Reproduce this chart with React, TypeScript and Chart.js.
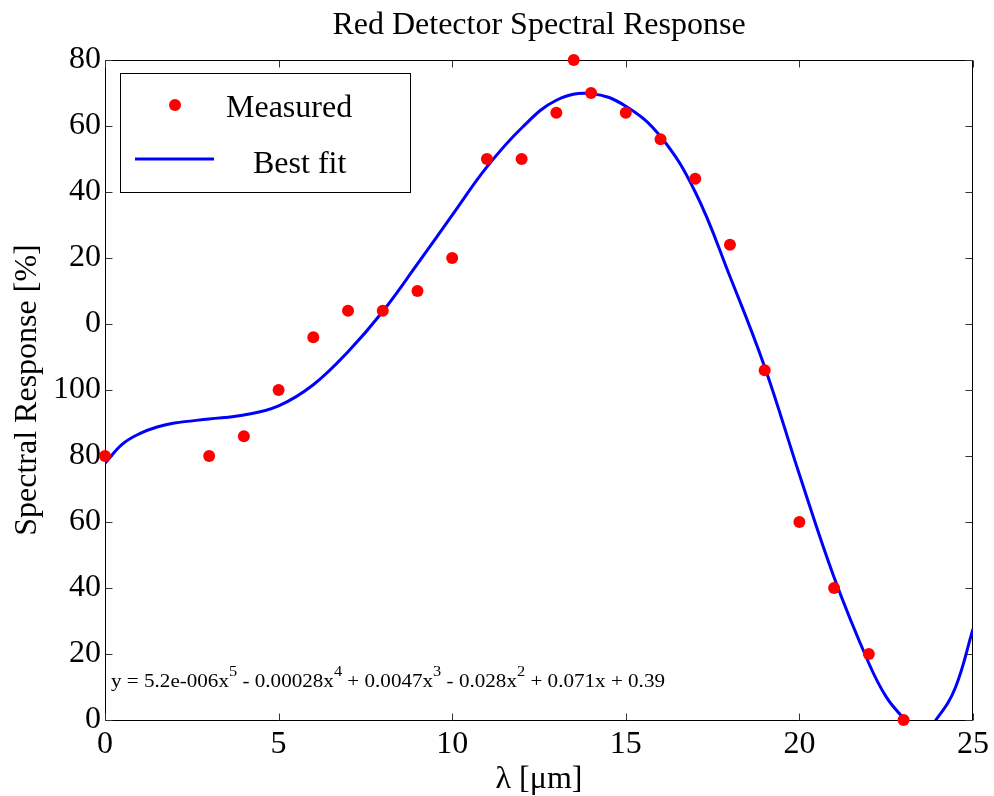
import React, { useEffect, useRef } from 'react';
import { Chart, registerables } from 'chart.js';

Chart.register(...registerables);

const titleText = 'Red Detector Spectral Response';
const xAxisTitle = 'λ [μm]';
const yAxisTitle = 'Spectral Response [%]';
const legendLabels = ['Measured', 'Best fit'];

const xTickValues = [0, 5, 10, 15, 20, 25];
const yTickLabels = ['0', '20', '40', '60', '80', '100', '0', '20', '40', '60', '80'];

const measuredX = [0, 3, 4, 5, 6, 7, 8, 9, 10, 11, 12, 13, 13.5, 14, 15, 16, 17, 18, 19, 20, 21, 22, 23];
const measuredY = [0.40, 0.40, 0.43, 0.50, 0.58, 0.62, 0.62, 0.65, 0.70, 0.85, 0.85, 0.92, 1.0, 0.95, 0.92, 0.88, 0.82, 0.72, 0.53, 0.30, 0.20, 0.10, 0.0];

const fitX = [0, 0.5, 1, 1.5, 2, 3, 4, 5, 6, 7, 8, 9, 10, 11, 12, 13, 14, 15, 16, 17, 18, 19, 20, 21, 22, 22.5, 23, 23.5, 24, 24.5, 25];
const fitY = [0.389, 0.418, 0.434, 0.444, 0.45, 0.456, 0.462, 0.476, 0.508, 0.558, 0.619, 0.691, 0.765, 0.838, 0.897, 0.939, 0.949, 0.93, 0.884, 0.80, 0.672, 0.535, 0.372, 0.216, 0.086, 0.035, 0.003, -0.02, 0.005, 0.05, 0.138];

const equationParts: [string, string][] = [
  ['y = 5.2e-006x', '5'],
  [' - 0.00028x', '4'],
  [' + 0.0047x', '3'],
  [' - 0.028x', '2'],
  [' + 0.071x + 0.39', ''],
];

const FONT = "'Liberation Serif', 'Times New Roman', serif";

const framePlugin = {
  id: 'frameTicks',
  beforeDatasetsDraw(chart: any) {
    const { ctx, chartArea, scales } = chart;
    const { left, top, right, bottom } = chartArea;
    ctx.save();
    ctx.strokeStyle = '#000';
    ctx.lineWidth = 1;
    const L = Math.round(left) + 0.5;
    const R = Math.round(right) - 0.5;
    const T = Math.round(top) + 0.5;
    const B = Math.round(bottom) + 0.5;
    ctx.beginPath();
    ctx.rect(L, T, R - L, B - T);
    ctx.stroke();
    ctx.strokeStyle = '#333';
    const tl = 7;
    ctx.beginPath();
    scales.x.ticks.forEach((t: any) => {
      const px = Math.round(scales.x.getPixelForValue(t.value)) + 0.5;
      ctx.moveTo(px, B);
      ctx.lineTo(px, B - tl);
      ctx.moveTo(px, T);
      ctx.lineTo(px, T + tl);
    });
    scales.y.ticks.forEach((t: any) => {
      const py = Math.round(scales.y.getPixelForValue(t.value)) + 0.5;
      ctx.moveTo(L, py);
      ctx.lineTo(L + tl, py);
      ctx.moveTo(R, py);
      ctx.lineTo(R - tl, py);
    });
    ctx.stroke();
    ctx.restore();
  },
  afterDatasetsDraw(chart: any) {
    const { ctx, chartArea } = chart;
    ctx.save();
    const mainSize = 18;
    const supSize = 14;
    const mainFont = `${mainSize}px ${FONT}`;
    const supFont = `${supSize}px ${FONT}`;
    let total = 0;
    equationParts.forEach(([m, s]) => {
      ctx.font = mainFont;
      total += ctx.measureText(m).width;
      if (s) {
        ctx.font = supFont;
        total += ctx.measureText(s).width;
      }
    });
    const targetWidth = 554;
    const sx = targetWidth / total;
    const x0 = chartArea.left + 6;
    const baseY = 687;
    ctx.translate(x0, baseY);
    ctx.scale(sx, 1);
    ctx.fillStyle = '#000';
    ctx.textBaseline = 'alphabetic';
    ctx.textAlign = 'left';
    let cx = 0;
    equationParts.forEach(([m, s]) => {
      ctx.font = mainFont;
      ctx.fillText(m, cx, 0);
      cx += ctx.measureText(m).width;
      if (s) {
        ctx.font = supFont;
        ctx.fillText(s, cx, -11);
        cx += ctx.measureText(s).width;
      }
    });
    ctx.restore();
  },
  afterDraw(chart: any) {
    const { ctx } = chart;
    ctx.save();
    const bx = 120.5, by = 73.5, bw = 290, bh = 119;
    ctx.fillStyle = '#fff';
    ctx.fillRect(bx, by, bw, bh);
    ctx.strokeStyle = '#000';
    ctx.lineWidth = 1;
    ctx.strokeRect(bx, by, bw, bh);
    ctx.fillStyle = '#FF0000';
    ctx.beginPath();
    ctx.arc(175, 105, 6, 0, Math.PI * 2);
    ctx.fill();
    ctx.strokeStyle = '#0000FF';
    ctx.lineWidth = 3;
    ctx.beginPath();
    ctx.moveTo(135, 159);
    ctx.lineTo(214, 159);
    ctx.stroke();
    ctx.fillStyle = '#000';
    ctx.font = `32px ${FONT}`;
    ctx.textBaseline = 'alphabetic';
    ctx.textAlign = 'left';
    ctx.fillText(legendLabels[0], 226, 117);
    ctx.fillText(legendLabels[1], 253, 173);
    ctx.restore();
  },
};

export default function App() {
  const canvasRef = useRef<HTMLCanvasElement | null>(null);

  useEffect(() => {
    const canvas = canvasRef.current;
    if (!canvas) return;
    const chart = new Chart(canvas, {
      type: 'line',
      data: {
        datasets: [
          {
            label: legendLabels[0],
            data: measuredX.map((x, i) => ({ x, y: measuredY[i] })),
            showLine: false,
            pointRadius: 6,
            pointBackgroundColor: '#FF0000',
            pointBorderColor: '#FF0000',
            pointBorderWidth: 0,
            borderColor: '#FF0000',
            backgroundColor: '#FF0000',
            clip: false as any,
          },
          {
            label: legendLabels[1],
            data: fitX.map((x, i) => ({ x, y: fitY[i] })),
            borderColor: '#0000FF',
            backgroundColor: '#0000FF',
            borderWidth: 3,
            pointRadius: 0,
            tension: 0.4,
            fill: false,
          },
        ],
      },
      options: {
        responsive: false,
        animation: false,
        devicePixelRatio: 1,
        events: [],
        layout: { padding: { left: 0, right: 21, top: 0, bottom: 0 } },
        plugins: {
          legend: { display: false },
          tooltip: { enabled: false },
          title: {
            display: true,
            text: titleText,
            color: '#000',
            fullSize: false,
            font: { family: FONT, size: 32, weight: 'normal', lineHeight: 1.2 },
            padding: { top: 6, bottom: 15.6 },
          },
        },
        scales: {
          x: {
            type: 'linear',
            min: 0,
            max: 25,
            grid: { display: false, drawTicks: false },
            border: { display: false },
            afterFit: (s: any) => {
              s.height = 76;
            },
            afterBuildTicks: (s: any) => {
              s.ticks = xTickValues.map((v) => ({ value: v }));
            },
            ticks: {
              color: '#000',
              padding: 5,
              autoSkip: false,
              maxRotation: 0,
              font: { family: FONT, size: 32, lineHeight: 1.2 },
              callback: (v: any) => String(v),
            },
            title: {
              display: true,
              text: xAxisTitle,
              color: '#000',
              font: { family: FONT, size: 32, lineHeight: 1.0 },
              padding: { top: 0, bottom: 0 },
            },
          },
          y: {
            type: 'linear',
            min: 0,
            max: 1,
            grid: { display: false, drawTicks: false },
            border: { display: false },
            afterFit: (s: any) => {
              s.width = 105;
            },
            ticks: {
              stepSize: 0.1,
              color: '#000',
              padding: 4,
              autoSkip: false,
              font: { family: FONT, size: 32, lineHeight: 1.2 },
              callback: (_v: any, i: number) => yTickLabels[i],
            },
            title: {
              display: true,
              text: yAxisTitle,
              color: '#000',
              font: { family: FONT, size: 32, lineHeight: 1.2 },
              padding: { top: 8, bottom: 0 },
            },
          },
        },
      },
      plugins: [framePlugin],
    } as any);
    return () => chart.destroy();
  }, []);

  return (
    <div style={{ position: 'absolute', left: 0, top: 0, width: 994, height: 796, background: '#fff' }}>
      <canvas ref={canvasRef} width={994} height={796} />
    </div>
  );
}
